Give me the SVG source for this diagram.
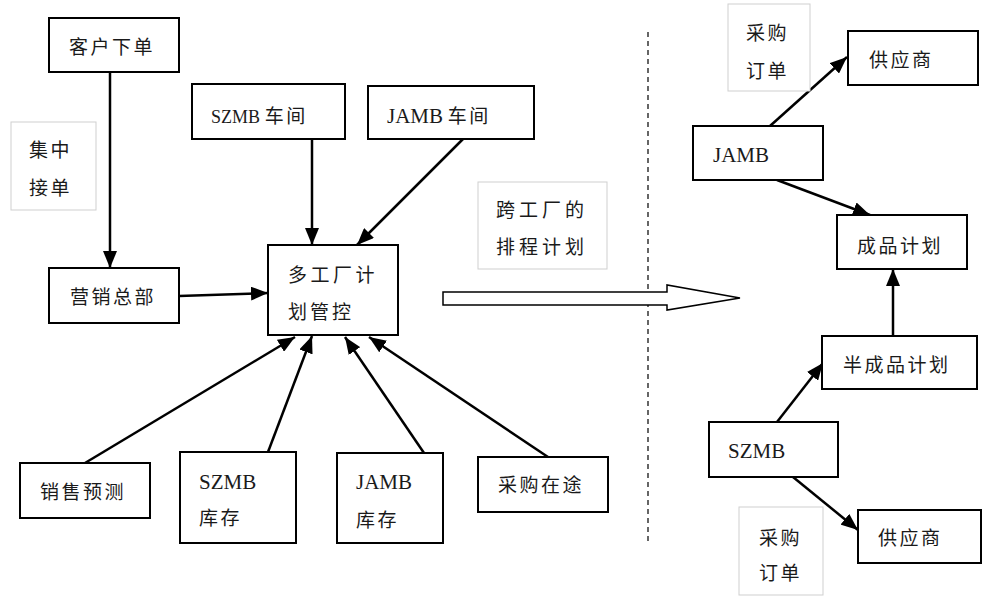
<svg xmlns="http://www.w3.org/2000/svg" width="982" height="596" viewBox="0 0 982 596">
  <style>
    .box { fill: #fff; stroke: #000; stroke-width: 2; }
    .note { fill: #fff; stroke: #cfcfcf; stroke-width: 1; }
    .t { font-family: "Liberation Serif", "Noto Sans CJK SC", serif; font-size: 19px; fill: #1a1a1a; }
    .c { letter-spacing: 2.5px; }
    .lat { font-size: 21px; }
    .link { stroke: #000; stroke-width: 2.5; fill: none; marker-end: url(#head); }
  </style>
  <defs>
    <marker id="head" markerUnits="userSpaceOnUse" markerWidth="18" markerHeight="14" refX="17" refY="7" orient="auto">
      <path d="M0,0 L17,7 L0,14 z" fill="#000"/>
    </marker>
  </defs>

  <rect width="982" height="596" fill="#fff"/>

  <!-- divider between the two planning views -->
  <line x1="648" y1="32" x2="648" y2="543" stroke="#000" stroke-width="1.2" stroke-dasharray="5 4"/>

  <!-- connectors -->
  <g id="connectors">
    <line class="link" x1="110" y1="72" x2="110" y2="268"/>
    <line class="link" x1="179" y1="296" x2="268" y2="293"/>
    <line class="link" x1="312" y1="139" x2="312" y2="245"/>
    <line class="link" x1="463" y1="139" x2="357" y2="245"/>
    <line class="link" x1="85" y1="463" x2="295" y2="337"/>
    <line class="link" x1="268" y1="452" x2="312" y2="336"/>
    <line class="link" x1="424" y1="453" x2="345" y2="337"/>
    <line class="link" x1="548" y1="457" x2="369" y2="337"/>
    <line class="link" x1="770" y1="126" x2="847" y2="57"/>
    <line class="link" x1="777" y1="180" x2="870" y2="215"/>
    <line class="link" x1="893" y1="336" x2="893" y2="269"/>
    <line class="link" x1="777" y1="422" x2="823" y2="363"/>
    <line class="link" x1="793" y1="477" x2="858" y2="530"/>
    <!-- hollow block arrow: cross-plant schedule hand-off -->
    <path d="M443,292 L667,292 L667,285 L740,298 L667,310 L667,305 L443,305 z" fill="#fff" stroke="#000" stroke-width="1.5"/>
  </g>

  <g id="customer-order">
    <rect class="box" x="49" y="18" width="130" height="54"/>
    <text class="t c" x="69" y="54">客户下单</text>
  </g>

  <g id="central-intake">
    <rect class="note" x="11" y="122" width="85" height="88"/>
    <text class="t c" x="29" y="157">集中</text>
    <text class="t c" x="29" y="195">接单</text>
  </g>

  <g id="marketing-hq">
    <rect class="box" x="49" y="268" width="130" height="55"/>
    <text class="t c" x="70" y="304">营销总部</text>
  </g>

  <g id="szmb-workshop">
    <rect class="box" x="192" y="84" width="153" height="55"/>
    <text class="t" x="211" y="123"><tspan font-size="18">SZMB</tspan> <tspan class="c">车间</tspan></text>
  </g>

  <g id="jamb-workshop">
    <rect class="box" x="368" y="86" width="166" height="53"/>
    <text class="t" x="387" y="123"><tspan class="lat">JAMB</tspan> <tspan class="c">车间</tspan></text>
  </g>

  <g id="multi-plant-control">
    <rect class="box" x="268" y="245" width="130" height="90"/>
    <text class="t" x="288" y="282" letter-spacing="3.5">多工厂计</text>
    <text class="t" x="288" y="319" letter-spacing="3">划管控</text>
  </g>

  <g id="cross-plant-schedule">
    <rect class="note" x="478" y="182" width="129" height="87"/>
    <text class="t" x="496" y="217" letter-spacing="4">跨工厂的</text>
    <text class="t" x="496" y="254" letter-spacing="4">排程计划</text>
  </g>

  <g id="sales-forecast">
    <rect class="box" x="20" y="463" width="130" height="55"/>
    <text class="t c" x="40" y="499">销售预测</text>
  </g>

  <g id="szmb-stock">
    <rect class="box" x="180" y="452" width="116" height="91"/>
    <text class="t lat" x="199" y="489">SZMB</text>
    <text class="t c" x="199" y="525">库存</text>
  </g>

  <g id="jamb-stock">
    <rect class="box" x="337" y="453" width="106" height="90"/>
    <text class="t lat" x="356" y="489">JAMB</text>
    <text class="t c" x="356" y="527">库存</text>
  </g>

  <g id="purchase-in-transit">
    <rect class="box" x="478" y="457" width="130" height="55"/>
    <text class="t c" x="498" y="492">采购在途</text>
  </g>

  <g id="po-note-top">
    <rect class="note" x="728" y="4" width="82" height="87"/>
    <text class="t c" x="746" y="40">采购</text>
    <text class="t c" x="746" y="78">订单</text>
  </g>

  <g id="supplier-top">
    <rect class="box" x="848" y="31" width="130" height="54"/>
    <text class="t c" x="869" y="67">供应商</text>
  </g>

  <g id="jamb-plant">
    <rect class="box" x="693" y="126" width="130" height="54"/>
    <text class="t lat" x="713" y="162">JAMB</text>
  </g>

  <g id="finished-plan">
    <rect class="box" x="837" y="215" width="130" height="54"/>
    <text class="t c" x="857" y="253">成品计划</text>
  </g>

  <g id="semi-finished-plan">
    <rect class="box" x="822" y="336" width="155" height="53"/>
    <text class="t c" x="843" y="372">半成品计划</text>
  </g>

  <g id="szmb-plant">
    <rect class="box" x="709" y="422" width="129" height="55"/>
    <text class="t lat" x="728" y="458">SZMB</text>
  </g>

  <g id="supplier-bottom">
    <rect class="box" x="858" y="510" width="123" height="53"/>
    <text class="t c" x="878" y="545">供应商</text>
  </g>

  <g id="po-note-bottom">
    <rect class="note" x="739" y="507" width="84" height="88"/>
    <text class="t c" x="759" y="545">采购</text>
    <text class="t c" x="759" y="580">订单</text>
  </g>
</svg>
